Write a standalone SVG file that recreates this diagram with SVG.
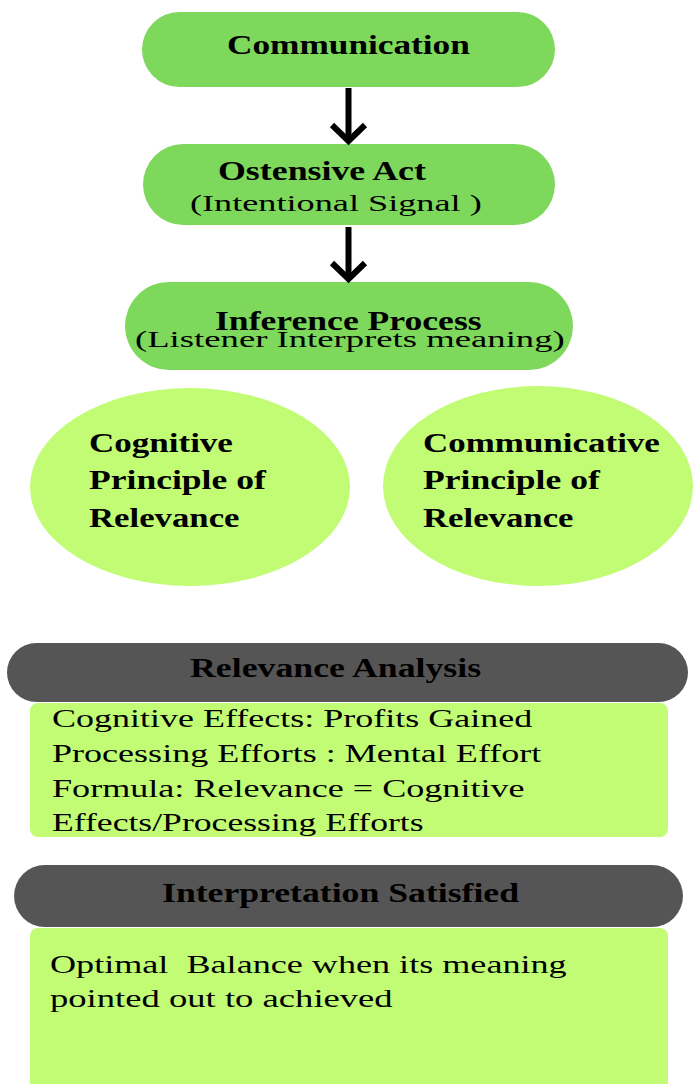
<svg xmlns="http://www.w3.org/2000/svg" width="694" height="1084" viewBox="0 0 694 1084">
<style>
.pill{fill:#7dd85b}
.light{fill:#c1fc74}
.dark{fill:#555555}
.b{font-family:"Liberation Serif","Times New Roman",serif;font-weight:bold;fill:#000}
.r{font-family:"Liberation Serif","Times New Roman",serif;fill:#000}
.arrow{stroke:#000;stroke-width:6;fill:none}
</style>
<rect width="694" height="1084" fill="#ffffff"/>
<g id="communication">
<rect class="pill" x="142" y="12" width="413" height="75" rx="37.5"/>
<text class="b" font-size="27" transform="translate(227 54) scale(1.306 1)">Communication</text>
</g>
<g id="ostensive-act">
<rect class="pill" x="143" y="144" width="412" height="81" rx="40.5"/>
<text class="b" font-size="27" transform="translate(218 180) scale(1.327 1)">Ostensive Act</text>
<text class="r" font-size="24" transform="translate(190 211) scale(1.51 1)">(Intentional Signal )</text>
</g>
<g id="inference-process">
<rect class="pill" x="125" y="282" width="448" height="88" rx="44"/>
<text class="b" font-size="27" transform="translate(215 330) scale(1.319 1)">Inference Process</text>
<text class="r" font-size="23" transform="translate(135 347) scale(1.595 1)">(Listener Interprets meaning)</text>
</g>
<g id="cognitive-principle">
<ellipse class="light" cx="190" cy="487" rx="160" ry="99"/>
<text class="b" font-size="28" transform="translate(89 452) scale(1.251 1)">Cognitive</text>
<text class="b" font-size="28" transform="translate(89 489) scale(1.271 1)">Principle of</text>
<text class="b" font-size="28" transform="translate(89 527) scale(1.241 1)">Relevance</text>
</g>
<g id="communicative-principle">
<ellipse class="light" cx="538" cy="486" rx="155" ry="100"/>
<text class="b" font-size="28" transform="translate(423 452) scale(1.249 1)">Communicative</text>
<text class="b" font-size="28" transform="translate(423 489) scale(1.271 1)">Principle of</text>
<text class="b" font-size="28" transform="translate(423 527) scale(1.241 1)">Relevance</text>
</g>
<g id="relevance-analysis">
<rect class="dark" x="7" y="643" width="681" height="59" rx="29.5"/>
<text class="b" font-size="27" transform="translate(190 677) scale(1.325 1)">Relevance Analysis</text>
</g>
<g id="relevance-details">
<rect class="light" x="30" y="703" width="638" height="134" rx="8"/>
<text class="r" font-size="25" transform="translate(52 727) scale(1.44 1)">Cognitive Effects: Profits Gained</text>
<text class="r" font-size="25" transform="translate(52 762) scale(1.443 1)">Processing Efforts : Mental Effort</text>
<text class="r" font-size="25" transform="translate(52 797) scale(1.445 1)">Formula: Relevance = Cognitive</text>
<text class="r" font-size="25" transform="translate(52 831) scale(1.425 1)">Effects/Processing Efforts</text>
</g>
<g id="interpretation-satisfied">
<rect class="dark" x="14" y="865" width="669" height="62" rx="31"/>
<text class="b" font-size="27" transform="translate(162 902) scale(1.322 1)">Interpretation Satisfied</text>
</g>
<g id="interpretation-details">
<rect class="light" x="30" y="928" width="638" height="170" rx="8"/>
<text class="r" font-size="26" transform="translate(50 973) scale(1.39 1)" xml:space="preserve">Optimal  Balance when its meaning</text>
<text class="r" font-size="26" transform="translate(50 1007) scale(1.409 1)">pointed out to achieved</text>
</g>
<g id="connectors">
<line class="arrow" x1="348.5" y1="88" x2="348.5" y2="139"/>
<polyline class="arrow" points="332,125 348.5,141 365,125"/>
<line class="arrow" x1="348.5" y1="227" x2="348.5" y2="277"/>
<polyline class="arrow" points="332,263 348.5,279 365,263"/>
</g>
</svg>
